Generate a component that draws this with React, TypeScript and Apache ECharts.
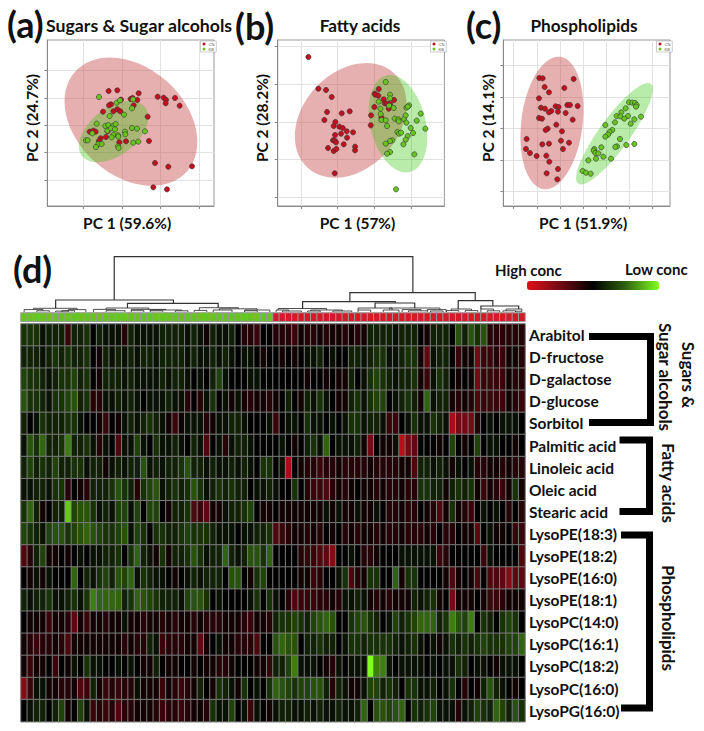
import React, { useEffect, useRef } from "react";
import * as echarts from "echarts";

// PCA scores (panel units)
const aCN = [[326,273],[352,271],[416,280],[473,290],[491,293],[498,300],[525,294],[497,310],[539,317],[392,297],[398,294],[412,300],[363,299],[401,316],[333,313],[327,316],[309,335],[340,334],[352,328],[361,334],[443,350],[269,395],[280,392],[287,395],[302,415],[297,423],[318,411],[323,394],[358,427],[378,424],[447,423],[465,489],[505,500],[576,499],[460,562],[501,568]];
const aKB = [[297,291],[350,308],[360,301],[399,298],[396,325],[372,344],[329,348],[290,371],[316,378],[325,375],[340,377],[347,372],[322,392],[333,385],[345,388],[396,384],[411,386],[435,394],[375,395],[376,403],[340,405],[354,406],[355,410],[335,412],[277,400],[258,421],[263,421],[295,432],[305,432],[288,441],[354,439],[356,444],[400,428],[415,425]];
const bCN = [[220,171],[250,266],[273,270],[290,291],[276,336],[268,360],[320,340],[344,334],[301,366],[296,378],[313,380],[323,384],[335,394],[354,397],[318,401],[300,405],[336,413],[294,421],[299,422],[303,427],[326,433],[279,444],[296,453],[304,447],[360,440],[360,451],[299,520],[431,267],[419,281],[421,284],[430,287],[446,298],[477,300],[449,310],[455,311],[465,311],[418,321],[461,326],[408,346],[439,352],[407,376]];
const bKB = [[452,246],[465,284],[465,295],[431,305],[436,326],[462,317],[476,324],[514,323],[522,316],[518,320],[437,342],[439,360],[452,361],[456,378],[479,356],[490,358],[491,364],[507,357],[512,346],[514,368],[557,341],[545,362],[527,384],[571,386],[534,399],[487,396],[492,401],[498,398],[518,408],[512,419],[505,433],[472,421],[465,423],[452,431],[465,456],[456,461],[538,463],[483,568]];
const cCN = [[238,234],[248,235],[341,237],[254,261],[313,264],[267,277],[237,295],[243,323],[255,326],[287,319],[296,321],[322,315],[330,315],[353,318],[274,333],[267,337],[294,335],[317,339],[237,354],[246,356],[338,359],[289,374],[263,386],[257,390],[306,394],[200,417],[303,422],[247,433],[267,431],[327,428],[198,447],[309,447],[210,459],[230,468],[259,467],[268,485],[294,507],[260,520],[292,538]];
const cKB = [[507,307],[517,308],[525,309],[530,315],[528,320],[497,325],[484,337],[470,348],[481,349],[504,348],[543,350],[493,356],[523,358],[465,367],[512,371],[436,375],[457,390],[449,396],[444,404],[436,410],[480,417],[523,432],[499,435],[471,439],[466,441],[424,442],[403,447],[401,452],[406,459],[415,460],[430,470],[408,476],[453,476],[385,481],[368,513],[378,518],[392,521]];

// confidence ellipses: centre x, centre y, radius 1, radius 2, angle in degrees
const aEllipses = [[393,365,225,162,-42],[341,395,119.5,70.6,37.7]];
const bEllipses = [[347,361,192,144,47.7],[489,371,149,83,103.6]];
const cEllipses = [[276,369,200,92,83],[463.5,401,185,46,54]];

const aTicksX = [250,368,482,598];
const aTicksY = [212,295,376,458,540];
const bTicksX = [199,308,418,528];
const bTicksY = [140,253,366,479,592];
const cTicksX = [161,231,300,370,440,508,577];
const cTicksY = [196,291,386,480,575];

const metabolites = ["Arabitol","D-fructose","D-galactose","D-glucose","Sorbitol","Palmitic acid","Linoleic acid","Oleic acid","Stearic acid","LysoPE(18:3)","LysoPE(18:2)","LysoPE(16:0)","LysoPE(18:1)","LysoPC(14:0)","LysoPC(16:1)","LysoPC(18:2)","LysoPC(16:0)","LysoPG(16:0)"];

const arabitol = [-3,-3,-3,-1,-2,-2,-2,3,-2,-2, -3,0,-2,-1,-1,-1,2,-2,-1,-1, -1,-1,-2,-2,-2,-2,-1,-2,-1,1, -2,-1,-1,-2,0,2,2,3, 0,0,2,2,2,3,1,2,2,1, 2,1,1,2,1,2,1,-2,-2,-2, -2,-1,-2,-2,-2,0,1,-2,-2,-2, 0,-5,-2,-5,-3,-5,2,2,2,2, 2,2];
const fructose = [-2,-2,-2,-1,-2,-3,-2,-3,-2,-2, -3,0,1,-2,-1,-2,-1,-2,-1,-2, -2,-1,-2,-2,-2,-2,-1,-2,-1,-1, -2,-1,-2,-1,0,-1,-1,0, 1,0,0,1,0,1,0,-1,-1,-2, 0,-1,0,0,-2,-2,-1,-2,-3,-3, -1,-1,-2,-3,-3,1,5,-1,-2,-2, 0,3,1,1,6,3,3,2,3,1, 1,2];
const galactose = [-4,-3,-3,-2,-1,-2,-3,-3,-4,-2, -3,0,1,-2,-2,-2,-1,-2,-1,-1, -1,-1,-2,-1,-2,-2,-1,0,-1,0, -2,-4,-1,0,0,0,-1,-1, 0,0,0,0,0,0,0,1,0,0, 1,0,1,1,-2,0,-1,-3,-4,-3, -2,-1,-2,-2,-3,1,3,-1,-3,-2, 0,1,0,1,6,3,3,3,3,1, 2,2];
const glucose = [-5,-3,-3,-2,-1,-3,-3,-4,-5,-2, -3,2,2,-1,-1,-2,-1,-2,-1,0, -1,-1,-1,-2,-1,-1,2,0,2,-1, -3,0,-1,1,-1,1,2,1, 1,2,1,0,-2,0,1,-2,-1,-3, -1,0,1,1,-2,-3,-1,-3,-4,-4, 0,-1,-2,-3,-2,1,-6,-1,-2,-2, 1,2,1,2,4,3,3,3,3,1, 2,3];
const sorbitol = [-2,0,-1,-3,-2,-2,-2,-3,-3,-1, 0,0,1,3,0,1,-1,-2,-1,-2, -3,-2,-1,1,3,1,-1,-1,-1,2, 1,-1,-1,-2,-2,-1,0,0, 0,-1,3,0,-1,-1,0,-3,-1,-1, 0,-1,0,-1,-3,-3,-1,-2,-2,-1, 3,3,0,-1,-3,-1,-1,-3,-2,-1, 9,6,6,6,2,0,-1,0,-1,-1, -1,0];
const palmitic = [-1,-5,-3,-6,-2,-2,-3,-7,-2,-2, -3,-1,2,-1,0,4,-1,-1,-4,-1, 0,-3,-1,-1,-2,-1,0,-2,-1,4, 0,-1,2,-1,-2,-2,-1,0, 0,0,0,-1,0,1,0,-2,-3,-1, -6,0,-1,-1,-1,-2,1,6,0,1, 1,-1,10,6,5,0,0,0,1,0, -4,0,1,0,-4,0,-1,-1,0,0, 1,0];
const linoleic = [-2,-4,-2,-3,-2,-4,-2,-2,-3,-3, -1,-2,-2,1,-1,-2,-1,-2,-2,-5, -1,-2,-1,-2,-2,-3,-5,-2,-2,-1, -2,-1,-1,-2,-1,-2,-1,0, -3,-3,0,-1,9,0,1,2,2,3, 2,2,1,2,2,2,2,1,2,2, 2,2,1,1,4,-2,-2,-1,-2,-1, 1,-1,0,-1,2,2,1,1,2,1, 2,2];
const oleic = [-1,-1,-2,-2,-1,-3,-3,2,0,1, 2,-2,-2,-2,-3,-5,-3,-2,2,-3, -4,-5,-1,-2,-3,-2,-3,-5,-3,-1, -2,-3,-2,-3,-2,-2,0,-1, -1,-2,-1,0,0,-3,0,2,3,3, 4,2,1,2,1,0,1,1,2,1, 2,2,1,2,2,-3,-3,-2,-2,1, -2,-3,-2,-3,1,3,1,2,3,1, -3,1];
const stearic = [-3,-6,-2,1,0,-2,-2,-10,-4,-5, -5,-3,-1,-2,-1,-4,-4,-1,-4,0, -4,-4,0,1,-2,-2,-3,4,3,5, 1,1,-1,-2,-2,-3,-4,0, 1,1,0,1,1,1,1,1,1,1, -1,1,-1,1,1,-1,1,1,-1,0, 2,2,1,2,2,0,1,2,4,1, -3,1,2,3,0,-1,0,-1,0,2, 0,2];
const pe183 = [-4,-3,-2,-1,-4,-5,-5,-3,-4,-5, -6,-5,-4,-3,-3,-4,-5,-1,-4,-3, 0,-3,-3,-2,-2,-3,-4,-3,-3,-3, -2,-1,-1,-1,0,-1,-1,-2, -2,-3,4,3,2,1,1,2,1,2, 0,1,0,2,1,2,1,1,2,1, 2,2,1,2,2,2,1,2,0,2, 2,0,1,1,5,0,-1,1,1,0, 3,3];
const pe182 = [4,2,-2,-4,1,1,0,1,0,-1, 0,-1,-1,-2,-2,-3,0,-3,-6,-2, -1,1,-3,1,-2,-2,-3,-5,-3,-1, -2,-2,-6,-2,-1,-2,-5,-5, -3,-6,0,0,0,0,2,3,3,4, 5,7,0,0,-1,0,2,2,1,0, 0,0,-1,-1,-1,-1,-1,-1,3,2, 0,0,0,0,0,3,-1,0,0,0, 0,4];
const pe160 = [0,1,-1,1,-1,0,0,0,-6,0, -2,-1,-3,-4,-2,-5,-4,-6,-1,-3, -2,-1,-1,0,1,0,-1,-2,-1,-2, -2,-2,0,-5,-5,0,1,-3, -4,0,0,0,0,0,1,1,3,2, 0,0,-1,-3,4,2,1,-3,-3,0, 0,-6,1,-3,-3,0,0,0,0,1, 4,1,0,1,4,0,4,4,5,7, 5,5];
const pe181 = [-2,-1,-2,-2,-3,-1,-1,-2,-3,-1, -3,-7,-6,-6,-6,-6,-2,-3,-6,-5, -4,-3,-2,-2,-2,-1,-4,-5,-5,-3, 0,-1,0,0,0,0,-1,-3, 0,-3,-1,0,2,4,3,3,3,2, 2,1,2,-1,-1,-2,-1,1,2,1, 2,1,1,1,-2,-1,-2,-3,1,0, 6,1,1,1,0,1,3,3,2,1, 1,1];
const pc140 = [0,1,1,1,3,1,1,2,5,1, 3,1,1,2,1,1,-1,1,1,2, 1,1,2,1,2,1,1,2,1,2, 2,2,1,1,1,2,3,1, 1,2,-2,-3,-3,-4,-3,-2,-4,-5, -6,-5,0,0,-3,-4,-5,-3,-2,0, -1,-4,-2,-3,-4,-6,-6,-6,-2,-3, -7,-5,-4,-7,0,-3,-2,0,-3,-4, -3,0];
const pc161 = [1,2,3,2,2,1,2,4,1,1, 1,1,1,1,1,1,2,1,2,2, -2,-1,3,2,2,2,1,1,5,1, 0,-1,1,1,2,2,2,4, 0,0,-5,-6,-5,-5,0,-2,-2,-3, -2,-2,0,-1,-3,-3,-2,-3,-3,-3, -3,-2,-1,-2,-3,-1,0,-1,1,-1, -3,-2,-3,-2,-3,-4,-3,-3,-3,-4, -4,-6];
const pc182 = [1,3,1,1,0,3,0,1,-1,0, -3,-1,-1,0,0,-1,0,-1,0,1, 1,-2,0,1,1,0,0,1,0,1, 1,2,2,1,0,0,0,1, 1,3,-2,-2,-4,-7,-1,-1,-1,0, 1,2,-1,0,-1,-1,-1,-12,-7,-7, -1,0,-1,-1,-1,-1,0,-1,0,-1, -1,-3,-2,0,-1,-1,0,1,-1,-1, -1,0];
const pc160 = [7,3,-1,-1,1,1,2,2,1,4, 3,-2,1,3,2,3,2,2,-1,1, 1,1,3,1,2,3,2,1,-2,0, 1,-3,-2,-1,1,-3,0,-1, 0,-3,-6,-5,-4,-3,-4,-4,-5,-5, -2,2,-2,-1,1,1,-1,-4,-4,-2, -3,-2,0,-3,-3,-1,-1,-2,0,-1, -3,0,2,0,1,-2,-5,-2,-1,0, 1,0];
const pg160 = [0,-1,-2,-2,0,-2,-4,1,0,-4, -1,3,2,3,2,4,2,2,1,1, 1,2,3,2,2,3,2,1,1,2, -3,-1,-1,-4,0,-1,3,-1, 0,1,-1,-2,-2,-1,-1,-2,-1,-2, -1,-1,-2,-1,-1,-2,-6,0,-5,-5, -4,-5,-6,0,-3,-2,-3,-4,-1,-1, -1,2,-1,-2,-4,-3,-2,-6,-4,-2, -5,-3];
const heatRows = [arabitol,fructose,galactose,glucose,sorbitol,palmitic,linoleic,oleic,stearic,pe183,pe182,pe160,pe181,pc140,pc161,pc182,pc160,pg160];

const sampleGroups = [...Array(40).fill(0), ...Array(40).fill(1)]; // 0 = KB, 1 = CN

// dendrogram merges: left column, right column, height, left child height, right child height
const dendroMerges = [
  [14.8,62.2,55.3,12,19.3],[5.5,24.2,12,3.7,8.7],[16.9,31.3,8.7,4,4.3],[28.3,34.5,4.3,1.6,3.2],
  [52.2,72.1,19.3,10.3,11.3],[44.7,59.4,10.3,3.5,9],[56.2,62.5,9,4,4],[69.4,74.9,11.3,3,6],[73,79,6,3,3],
  [2,8.9,3.7,2.4,2.4],[0.5,3.5,2.4,0,1.2],[2.5,4.5,1.2,0,0],[7.5,10.3,2.4,1.3,0],[6.5,8.5,1.3,0,0],[5.5,7.5,0.9,0,0],
  [13.5,20.3,4,2.6,2.6],[11.5,15,2.6,0,1.3],[13.5,16.5,1.3,0,0],[17.5,23,2.6,1.3,2],[17.5,19.5,1.3,0,0],[20.5,25.5,2,1.2,1.2],[20.5,22.5,1.2,0,0],[24.5,26.5,1.2,0,0],
  [27.5,29.5,1.6,0,0],[31.5,37.5,3.2,2,2],[30.5,33.5,2,0,0],[35.5,39.5,2,1.2,0],[35.5,37.5,1.2,0,0],
  [40.8,48.5,3.5,2,2],[40.5,42.5,2,0,1],[41.5,44.5,1,0,0],[46,51,2,1,1],[45.5,47.5,1,0,0],[49.5,52.5,1,0,0],
  [53.5,58.9,4,2,2],[53.5,55.5,2,0,0],[57.5,60,2,0,0],
  [58.5,66.5,4,2.4,2.4],[60.5,63.5,2.4,0,1.2],[61.5,64.5,1.2,0,0],[64.5,67.5,2.4,1,0],[65,67,1,0,0],
  [68.3,71.5,3,1.4,1.4],[67.5,69.5,1.4,0,0],[70.5,72.5,1.4,0,0],
  [73,75,3,0,1.2],[74,76,1.2,0,0],[77,79.5,3,1.2,1.2],[76.5,78.5,1.2,0,0],[78.5,79.5,0.8,0,0],
];

const FONT = "Lato";
const RED = "#c3101f";
const GREEN = "#68c41f";
const ELLIPSE_FILLS = ["rgba(202,80,80,0.45)", "rgba(43,194,0,0.33)"];

function pcaPanel(i: number, left: number, axisMinX: number, xName: string, yName: string, tx: number[], ty: number[], ell: number[][], cn: number[][], kb: number[][]) {
  const lineStyle = { color: "#888", width: 1 };
  const axis = { type: "value", splitLine: { show: true, lineStyle: { color: "#e2e2e2", width: 1 } }, axisLine: { show: true, lineStyle }, axisTick: { show: true, length: 3, lineStyle }, gridIndex: i };
  const nameStyle = { fontFamily: FONT, fontWeight: "bold", fontSize: 15.5, color: "#111" };
  return {
    grid: { left, top: 40, width: 166.7, height: 166, show: true, borderColor: "#999", borderWidth: 1, backgroundColor: "#fff" },
    xAxis: { ...axis, min: axisMinX, max: axisMinX + 500, name: xName, nameLocation: "middle", nameGap: 9, nameTextStyle: { ...nameStyle, padding: [0, 7, 0, 0] }, axisTick: { ...axis.axisTick, customValues: tx }, axisLabel: { show: false, customValues: tx } },
    yAxis: { ...axis, min: 120, max: 618, inverse: true, name: yName, nameLocation: "middle", nameGap: 7.5, nameTextStyle: { ...nameStyle, padding: [0, 0, 0, 10] }, axisTick: { ...axis.axisTick, customValues: ty }, axisLabel: { show: false, customValues: ty } },
    series: [
      {
        type: "custom", xAxisIndex: i, yAxisIndex: i, z: 1, silent: true, data: ell, encode: { x: 0, y: 1 },
        renderItem: (p: any, api: any) => {
          const c = api.coord([api.value(0), api.value(1)]);
          const s = api.size([api.value(2), api.value(3)]);
          return { type: "ellipse", x: c[0], y: c[1], rotation: (api.value(4) * Math.PI) / 180, shape: { cx: 0, cy: 0, rx: s[0], ry: s[1] }, style: { fill: ELLIPSE_FILLS[p.dataIndex] } };
        },
      },
      { type: "scatter", name: "CN", xAxisIndex: i, yAxisIndex: i, z: 3, data: cn, symbolSize: 5.2, itemStyle: { color: RED, borderColor: "#333", borderWidth: 0.6, opacity: 1 } },
      { type: "scatter", name: "KB", xAxisIndex: i, yAxisIndex: i, z: 4, data: kb, symbolSize: 5.2, itemStyle: { color: GREEN, borderColor: "#333", borderWidth: 0.6, opacity: 1 } },
    ],
  };
}

const vText = (text: string, x: number, y: number) => ({ type: "text", x, y, rotation: -Math.PI / 2, style: { text, font: `bold 17px ${FONT}`, fill: "#111", align: "center", verticalAlign: "middle" } });
const hText = (text: string, x: number, y: number, size: number, align = "left") => ({ type: "text", x, y, style: { text, font: `bold ${size}px ${FONT}`, fill: "#111", align, verticalAlign: "middle" } });
const bracket = (points: number[][]) => ({ type: "polyline", shape: { points }, style: { stroke: "#000", lineWidth: 7, fill: "none" } });

function buildOption() {
  const panels = [
    pcaPanel(0, 47.3, 142, "PC 1 (59.6%)", "PC 2 (24.7%)", aTicksX, aTicksY, aEllipses, aCN, aKB),
    pcaPanel(1, 277.7, 128, "PC 1 (57%)", "PC 2 (28.2%)", bTicksX, bTicksY, bEllipses, bCN, bKB),
    pcaPanel(2, 503.3, 130, "PC 1 (51.9%)", "PC 2 (14.1%)", cTicksX, cTicksY, cEllipses, cCN, cKB),
  ];
  const heatData: number[][] = [];
  heatRows.forEach((row, r) => row.forEach((v, c) => heatData.push([c, r, v])));
  const cols = sampleGroups.map((_, i) => String(i));
  const legendAt = (left: number) => ({ left, top: 41, orient: "vertical", data: ["CN", "KB"], icon: "circle", itemWidth: 3, itemHeight: 3, itemGap: 1, padding: [1, 2], selectedMode: false, borderColor: "#999", borderWidth: 0.5, backgroundColor: "#fff", itemStyle: { borderWidth: 0 }, textStyle: { fontSize: 4, color: "#555", padding: [0, 0, 0, -2] }, z: 10 });
  const HEAT = panels.length * 3;
  return {
    animation: false,
    backgroundColor: "#fff",
    legend: [legendAt(200.5), legendAt(430.5), legendAt(656.5)],
    grid: [
      ...panels.map((p) => p.grid),
      { left: 21, top: 324, width: 504, height: 397.7 },
      { left: 21, top: 313, width: 504, height: 8.3 },
      { left: 21, top: 250, width: 504, height: 62 },
    ],
    xAxis: [
      ...panels.map((p) => p.xAxis),
      { type: "category", gridIndex: 3, data: cols, show: false },
      { type: "category", gridIndex: 4, data: cols, show: false },
      { type: "value", gridIndex: 5, min: 0, max: 80, show: false },
    ],
    yAxis: [
      ...panels.map((p) => p.yAxis),
      { type: "category", gridIndex: 3, data: metabolites, inverse: true, position: "right", axisLine: { show: false }, axisTick: { show: false }, axisLabel: { margin: 4, fontFamily: FONT, fontWeight: "bold", fontSize: 15.5, color: "#111" } },
      { type: "category", gridIndex: 4, data: ["group"], show: false },
      { type: "value", gridIndex: 5, min: 0, max: 62, show: false },
    ],
    visualMap: [
      { type: "continuous", seriesIndex: HEAT, min: -12, max: 12, inverse: true, orient: "horizontal", left: 527, top: 281, itemWidth: 9, itemHeight: 132, padding: 0, calculable: false, text: ["", ""], inRange: { color: ["#80ff20", "#306410", "#000000", "#730a14", "#e0101c"] } },
      { type: "piecewise", show: false, seriesIndex: HEAT + 1, pieces: [{ value: 0, color: GREEN }, { value: 1, color: "#d8192a" }] },
    ],
    series: [
      ...panels.flatMap((p) => p.series),
      { type: "heatmap", xAxisIndex: 3, yAxisIndex: 3, data: heatData, itemStyle: { borderColor: "#7a7a7a", borderWidth: 1 } },
      { type: "heatmap", xAxisIndex: 4, yAxisIndex: 4, data: sampleGroups.map((g, i) => [i, 0, g]), itemStyle: { borderColor: "#9a9a9a", borderWidth: 1 } },
      {
        type: "custom", xAxisIndex: 5, yAxisIndex: 5, silent: true, data: dendroMerges, encode: { x: [0, 1], y: 2 },
        renderItem: (p: any, api: any) => {
          const [x1, x2, h, h1, h2] = [0, 1, 2, 3, 4].map((d) => api.value(d));
          const points = [api.coord([x1, h1]), api.coord([x1, h]), api.coord([x2, h]), api.coord([x2, h2])];
          return { type: "polyline", shape: { points }, style: { stroke: h > 5 ? "#333" : "#222", lineWidth: h > 5 ? 1.2 : 0.8, fill: "none" } };
        },
      },
    ],
    graphic: [
      hText("(a)", 7, 24, 36), hText("Sugars & Sugar alcohols", 46, 25, 17.7),
      hText("(b)", 235, 26, 36), hText("Fatty acids", 360, 25, 17.2, "center"),
      hText("(c)", 466, 25, 36), hText("Phospholipids", 584, 25, 17.2, "center"),
      hText("(d)", 13, 269, 36),
      hText("High conc", 495, 270, 15), hText("Low conc", 625, 269, 15),
      bracket([[589, 336.5], [650.5, 336.5], [650.5, 422.5], [589, 422.5]]),
      bracket([[619.5, 440], [649.5, 440], [649.5, 511.5], [619.5, 511.5]]),
      bracket([[621, 535], [649.5, 535], [649.5, 708], [621, 708]]),
      vText("Sugars &", 688, 375), vText("Sugar alcohols", 665, 377),
      vText("Fatty acids", 668, 483), vText("Phospholipids", 668, 618),
    ],
  };
}

export default function App() {
  const ref = useRef<HTMLDivElement>(null);
  useEffect(() => {
    const chart = echarts.init(ref.current!, undefined, { renderer: "svg" });
    chart.setOption(buildOption() as any);
    return () => chart.dispose();
  }, []);
  return <div ref={ref} style={{ position: "fixed", left: 0, top: 0, width: 704, height: 731 }} />;
}
